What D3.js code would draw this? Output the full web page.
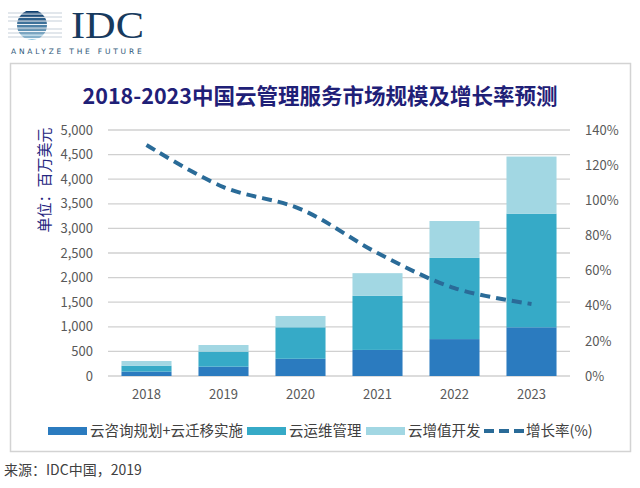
<!DOCTYPE html>
<html><head><meta charset="utf-8">
<script src="https://cdn.jsdelivr.net/npm/d3@7/dist/d3.min.js"></script>
<style>body{margin:0;background:#fff}svg{display:block}</style>
</head><body>
<svg id="c" width="640" height="488"></svg>
<script>
const years = ["2018","2019","2020","2021","2022","2023"];
const consulting = [90, 190, 350, 530, 750, 990];
const operations = [120, 305, 640, 1100, 1650, 2310];
const valueAdded = [95, 135, 230, 460, 750, 1160];
const growth = [131.5, 107.5, 95, 70, 50, 41];
const leftTicks = [0,500,1000,1500,2000,2500,3000,3500,4000,4500,5000];
const rightTicks = [0,20,40,60,80,100,120,140];
const seriesNames = ["云咨询规划+云迁移实施","云运维管理","云增值开发","增长率(%)"];
const colors = ["#2b7bbf","#36aac7","#a2d7e3"];
const lineColor = "#2a6b98";

const svg = d3.select("#c");
const font = "'Noto Sans CJK SC','Noto Sans',sans-serif";

// logo
const logo = svg.append("g");
logo.append("defs").append("clipPath").attr("id","lc").append("circle").attr("cx",32).attr("cy",25).attr("r",15);
const stripes = [11,14.5,18,21.5,25,28.5,32,35.5,39];
logo.append("g").attr("clip-path","url(#lc)").selectAll("rect").data(stripes).join("rect")
  .attr("x",15).attr("y",d=>d).attr("width",34).attr("height",2.6)
  .attr("fill",(d,i)=>d3.interpolateRgb("#0e3e6e","#8fc6e0")(i/8));
logo.selectAll("line").data([13,17,21,29,33,37]).join("line")
  .attr("x1",8).attr("x2",62).attr("y1",d=>d).attr("y2",d=>d)
  .attr("stroke","#9aaabb").attr("stroke-width",0.8).attr("opacity",0.7);
logo.append("text").attr("x",71).attr("y",38).text("IDC")
  .attr("font-family","'Liberation Serif','DejaVu Serif',serif").attr("font-size",37)
  .attr("textLength",73).attr("lengthAdjust","spacingAndGlyphs").attr("fill","#173a5e");
logo.append("text").attr("x",11).attr("y",54).text("ANALYZE THE FUTURE")
  .attr("font-family","'DejaVu Sans',sans-serif").attr("font-size",7.5).attr("letter-spacing",2.8).attr("fill","#2f5878");

// chart border
svg.append("rect").attr("x",10.5).attr("y",63.5).attr("width",620).attr("height",388)
  .attr("fill","#fff").attr("stroke","#d3d3d3").attr("stroke-width",1.5);

svg.append("text").attr("x",320).attr("y",104).attr("text-anchor","middle")
  .attr("font-family",font).attr("font-weight","bold").attr("font-size",21.5).attr("fill","#1f2077")
  .text("2018-2023中国云管理服务市场规模及增长率预测");

const x0 = 108, x1 = 570, yTop = 130, yBot = 376;
const x = d3.scaleBand().domain(years).range([x0,x1]).paddingInner(0.35).paddingOuter(0.175);
const y = d3.scaleLinear().domain([0,5000]).range([yBot,yTop]);
const yr = d3.scaleLinear().domain([0,140]).range([yBot,yTop]);

// grid
svg.append("g").selectAll("line").data(leftTicks).join("line")
  .attr("x1",x0).attr("x2",x1).attr("y1",d=>y(d)).attr("y2",d=>y(d))
  .attr("stroke","#d0d0d0").attr("stroke-width",1.3);

// axes
const la = svg.append("g").attr("transform",`translate(${x0},0)`)
  .call(d3.axisLeft(y).tickValues(leftTicks).tickFormat(d3.format(",")).tickSize(0).tickPadding(15));
const ra = svg.append("g").attr("transform",`translate(${x1},0)`)
  .call(d3.axisRight(yr).tickValues(rightTicks).tickFormat(d=>d+"%").tickSize(0).tickPadding(15));
const ba = svg.append("g").attr("transform",`translate(0,${yBot})`)
  .call(d3.axisBottom(x).tickSize(0).tickPadding(14));
[la,ra,ba].forEach(a=>{a.select(".domain").remove();
  a.selectAll("text").attr("font-family",font).attr("font-size",13).attr("fill","#595959");});

// stacked bars
const rows = years.map((yy,i)=>({year:yy,a:consulting[i],b:operations[i],c:valueAdded[i]}));
const stack = d3.stack().keys(["a","b","c"])(rows);
svg.append("g").selectAll("g").data(stack).join("g").attr("fill",(d,i)=>colors[i])
  .selectAll("rect").data(d=>d).join("rect")
  .attr("x",d=>x(d.data.year)).attr("width",x.bandwidth())
  .attr("y",d=>y(d[1])).attr("height",d=>y(d[0])-y(d[1]));

// line
const line = d3.line().x((d,i)=>x(years[i])+x.bandwidth()/2).y(d=>yr(d)).curve(d3.curveCatmullRom.alpha(0.5));
svg.append("path").attr("d",line(growth)).attr("fill","none").attr("stroke",lineColor)
  .attr("stroke-width",4).attr("stroke-dasharray","10,6");

// y title
svg.append("text").attr("transform","translate(50,180) rotate(-90)").attr("text-anchor","middle")
  .attr("font-family",font).attr("font-size",15).attr("fill","#262680").text("单位：百万美元");

// legend
const lg = svg.append("g").attr("font-family",font).attr("font-size",14.5).attr("fill","#404040");
const lx = [48,247,366,484];
const ly = 431;
seriesNames.forEach((n,i)=>{
  if(i<3){
    lg.append("rect").attr("x",lx[i]).attr("y",ly-4).attr("width",39).attr("height",8).attr("fill",colors[i]);
  } else {
    lg.append("line").attr("x1",lx[i]).attr("x2",lx[i]+40).attr("y1",ly).attr("y2",ly)
      .attr("stroke",lineColor).attr("stroke-width",4).attr("stroke-dasharray","10,5");
  }
  lg.append("text").attr("x",lx[i]+42).attr("y",ly+5).text(n);
});

svg.append("text").attr("x",4).attr("y",475).attr("font-family",font).attr("font-size",14)
  .attr("fill","#404040").text("来源：IDC中国，2019");
</script>
</body></html>
